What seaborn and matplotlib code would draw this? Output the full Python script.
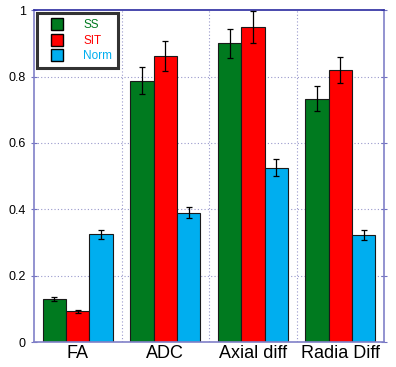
import numpy as np
import pandas as pd
import seaborn as sns
import matplotlib.pyplot as plt
from matplotlib.lines import Line2D

# data
measures = ['FA', 'ADC', 'Axial diff', 'Radia Diff']
groups = ['SS', 'SIT', 'Norm']
ss_mean = [0.130, 0.788, 0.900, 0.734]
sit_mean = [0.093, 0.861, 0.949, 0.819]
norm_mean = [0.325, 0.390, 0.526, 0.323]
ss_err = [0.005, 0.040, 0.045, 0.038]
sit_err = [0.004, 0.045, 0.048, 0.039]
norm_err = [0.014, 0.017, 0.027, 0.014]

colors = {'SS': '#007a1f', 'SIT': '#ff0000', 'Norm': '#00aeef'}

df = pd.DataFrame({
    'measure': measures * 3,
    'group': ['SS'] * 4 + ['SIT'] * 4 + ['Norm'] * 4,
    'value': ss_mean + sit_mean + norm_mean,
    'err': ss_err + sit_err + norm_err,
})

plt.rcParams['font.family'] = ['Liberation Sans', 'DejaVu Sans']

fig, ax = plt.subplots(figsize=(3.96, 3.67), dpi=100)
fig.subplots_adjust(left=0.086, right=0.97, top=0.972, bottom=0.068)

sns.barplot(data=df, x='measure', y='value', hue='group', order=measures,
            hue_order=groups, palette=colors, width=0.8, errorbar=None,
            saturation=1, edgecolor='#1a1a1a', linewidth=0.8, legend=False, ax=ax)

# error bars on the bar centres
for patch_group, g in zip(ax.containers, groups):
    sub = df[df['group'] == g].set_index('measure').loc[measures]
    xs = [p.get_x() + p.get_width() / 2 for p in patch_group]
    ax.errorbar(xs, sub['value'], yerr=sub['err'], fmt='none', ecolor='black',
                elinewidth=0.9, capsize=2.5, capthick=0.9, zorder=5)

ax.set_ylim(0, 1)
ax.set_xlim(-0.5, 3.5)
ax.set_yticks([0, 0.2, 0.4, 0.6, 0.8, 1])
ax.set_yticklabels(['0', '0.2', '0.4', '0.6', '0.8', '1'], fontsize=9)
ax.tick_params(axis='y', direction='inout', length=5, color='#7070c0', right=True)
ax.tick_params(axis='x', length=0, labelsize=13, pad=2)
ax.set_xlabel('')
ax.set_ylabel('')

# dotted grid, vertical lines between categories
for v in [0.5, 1.5, 2.5]:
    ax.axvline(v, color='#9999cc', linestyle=(0, (1, 2)), linewidth=0.8, zorder=0)
for h in [0.2, 0.4, 0.6, 0.8]:
    ax.axhline(h, color='#9999cc', linestyle=(0, (1, 2)), linewidth=0.8, zorder=0)

for side in ['left', 'bottom', 'right']:
    ax.spines[side].set_color('#8080c8')
    ax.spines[side].set_linewidth(1.2)
ax.spines['top'].set_color('#2a2aa0')
ax.spines['top'].set_linewidth(1.2)

handles = [Line2D([0], [0], marker='s', color='w', markerfacecolor=colors[g],
                  markeredgecolor='black', markersize=8, label=g) for g in groups]
leg = ax.legend(handles=handles, loc='upper left', fontsize=8.5, frameon=True,
                fancybox=False, shadow=False, handletextpad=1.0, handlelength=2.4,
                borderpad=0.5, labelspacing=0.3, borderaxespad=0.25)
leg.get_frame().set_edgecolor('black')
leg.get_frame().set_linewidth(2.2)
for txt, g in zip(leg.get_texts(), groups):
    txt.set_color(colors[g])

fig.savefig('out.png', dpi=100)
